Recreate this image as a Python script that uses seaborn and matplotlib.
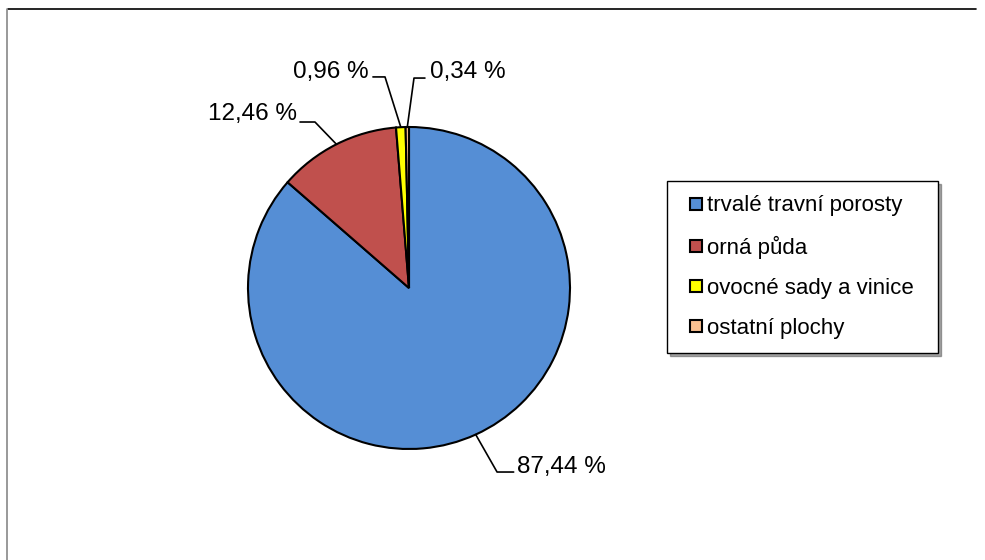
import numpy as np
import matplotlib.pyplot as plt
import seaborn as sns
from matplotlib.lines import Line2D

# data
categories = ['trvalé travní porosty', 'orná půda', 'ovocné sady a vinice', 'ostatní plochy']
shares = [87.44, 12.46, 0.96, 0.34]
label_texts = ['87,44 %', '12,46 %', '0,96 %', '0,34 %']
colors = ['#558ED5', '#C0504D', '#FFFF00', '#FAC090']

sns.set_theme(style="white")
plt.rcParams['font.family'] = ['Liberation Sans', 'DejaVu Sans']
plt.rcParams['text.color'] = 'black'

fig = plt.figure(figsize=(9.85, 5.6), dpi=100)
fig.patch.set_facecolor('white')

# pie axes: centre (409, 288) px, radius 161 px
cx, cy, r = 409, 288, 161
ax = fig.add_axes([(cx - r) / 985, (560 - cy - r) / 560, 2 * r / 985, 2 * r / 560])

wedges, _ = ax.pie(shares, colors=colors, startangle=90, counterclock=False,
                   radius=1.0, wedgeprops=dict(edgecolor='black', linewidth=1.5))
ax.set_xlim(-1, 1)
ax.set_ylim(-1, 1)
ax.set_aspect('equal')
ax.axis('off')

# leader lines: (elbow x, elbow y, line end x, text x, text y, ha)
leaders = [
    (0.547, -1.143, 0.650, 0.672, -1.112, 'left'),
    (-0.584, 1.031, -0.677, -0.696, 1.081, 'right'),
    (-0.149, 1.311, -0.224, -0.250, 1.342, 'right'),
    (0.031, 1.304, 0.099, 0.128, 1.342, 'left'),
]
for w, txt, (ex, ey, lx, tx, ty, ha) in zip(wedges, label_texts, leaders):
    ang = np.deg2rad((w.theta1 + w.theta2) / 2)
    px, py = np.cos(ang), np.sin(ang)
    ax.plot([px, ex, lx], [py, ey, ey], color='black', lw=1.2, clip_on=False)
    ax.text(tx, ty, txt, ha=ha, va='center', fontsize=17.5, color='black', clip_on=False)

# legend
handles = [Line2D([0], [0], marker='s', linestyle='none', markersize=8,
                  markerfacecolor=c, markeredgecolor='black', markeredgewidth=1.5)
           for c in colors]
leg = fig.legend(handles, categories, loc='upper left', mode='expand',
                 bbox_to_anchor=(667 / 985, 1 - 350 / 560, 271 / 985, 169 / 560),
                 borderaxespad=0, fontsize=16.0, frameon=True, fancybox=False,
                 shadow=True, handlelength=1.3, handletextpad=-0.13,
                 labelspacing=0.86, borderpad=0.65)
leg.get_frame().set_edgecolor('black')
leg.get_frame().set_linewidth(1.0)
for t in leg.get_texts():
    t.set_color('black')

# chart border (top and left)
fig.add_artist(Line2D([8 / 985, 976 / 985], [1 - 9 / 560, 1 - 9 / 560],
                      color='black', lw=1.2, transform=fig.transFigure))
fig.add_artist(Line2D([7 / 985, 7 / 985], [1 - 9 / 560, 0],
                      color='#888888', lw=1.2, transform=fig.transFigure))

fig.savefig('out.png', dpi=100)
